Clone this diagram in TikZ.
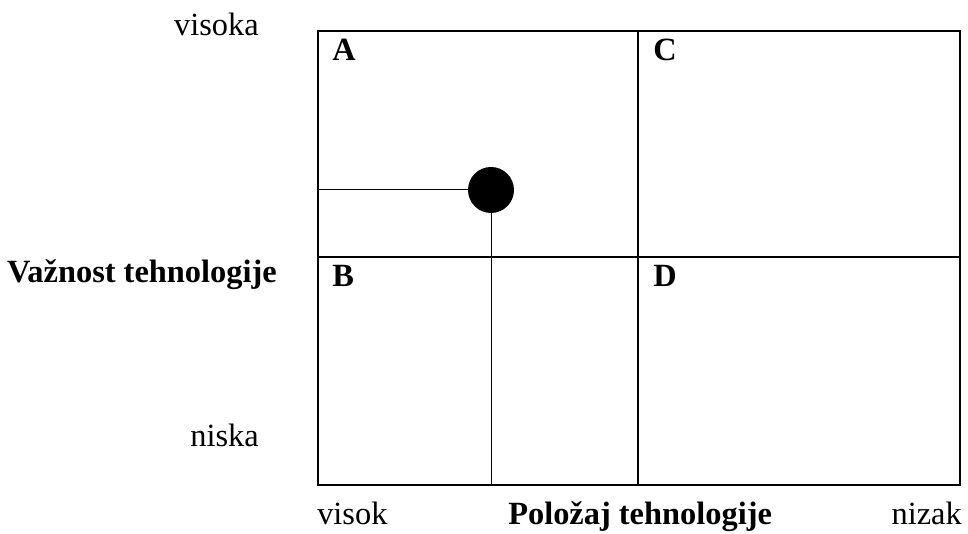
\documentclass[tikz,border=0pt]{standalone}
\usepackage{fontspec}
\setmainfont{Liberation Serif}
\usetikzlibrary{calc}

\tikzset{
 lbl/.style={inner sep=0pt, font=\fontsize{24.3}{29}\selectfont},
 blbl/.style={lbl, font=\fontsize{24.3}{29}\selectfont\bfseries},
 frame/.style={black, line width=1.6pt},
 guide/.style={black, line width=0.75pt}
}

\begin{document}
\begin{tikzpicture} [x = 0.75pt, y=0.75pt]
\useasboundingbox (0,0) rectangle (968,534);
% matrix of four fields
\coordinate (sw) at (318,49);
\coordinate (ne) at (960,503);
\coordinate (ms) at (638,49);
\coordinate (mn) at (638,503);
\coordinate (wm) at (318,277);
\coordinate (em) at (960,277);
\draw[frame] (sw) rectangle (ne);
\draw[frame] (ms)--(mn);
\draw[frame] (wm)--(em);
\foreach \q/\x/\y in {A/332/473, C/653/473, B/332/247, D/653/247} {
 \node[blbl, anchor=base west] (field\q) at (\x,\y) {\q};
}
% position of the technology
\node[circle, fill=black, inner sep=0pt, minimum size=34.5pt] (dot) at (491,344) {};
\coordinate (dotw) at (318,344);
\coordinate (dots) at (491,49);
\draw[guide] (dotw)--(dot);
\draw[guide] (dot)--(dots);
% axis labels
\node[lbl, anchor=base east] (high) at (259,498) {visoka};
\node[lbl, anchor=base east] (low) at (259,87) {niska};
\node[blbl, anchor=base east] (importance) at (277,251) {Važnost tehnologije};
\node[lbl, anchor=base west] (strong) at (317,9) {visok};
\node[blbl, anchor=base west] (position) at (508,9) {Položaj tehnologije};
\node[lbl, anchor=base east] (weak) at (962,9) {nizak};
\end{tikzpicture}
\end{document}
